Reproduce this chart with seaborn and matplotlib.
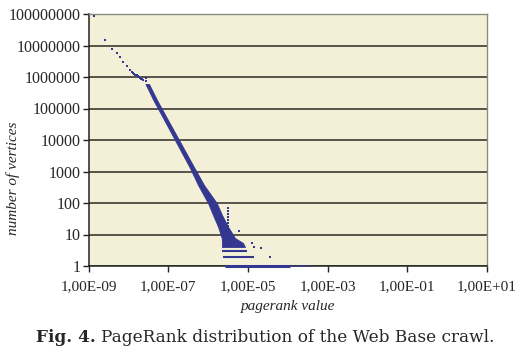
import seaborn as sns
import matplotlib.pyplot as plt
import pandas as pd
from matplotlib.ticker import FixedLocator, FixedFormatter, NullLocator

# Puntos sueltos de la cabeza (pagerank muy bajo, muchos vertices)
head_pr = [1.37e-9, 2.6e-9, 3.9e-9, 5.1e-9, 6.2e-9, 7.5e-9, 9.1e-9, 1.1e-8, 1.2e-8,
           1.33e-8, 1.4e-8, 1.47e-8, 1.55e-8, 1.65e-8, 1.75e-8, 1.85e-8, 1.95e-8,
           2.07e-8, 2.2e-8, 2.33e-8, 2.72e-8, 2.8e-8]
head_n = [8.5e7, 1.45e7, 7.9e6, 5.6e6, 4.2e6, 3.0e6, 2.2e6, 1.66e6, 1.45e6,
          1.3e6, 1.25e6, 1.2e6, 1.16e6, 1.12e6, 1.06e6, 1.0e6, 9.5e5,
          8.9e5, 8.4e5, 8.0e5, 9.1e5, 7.3e5]

# Banda densa (bordes izquierdo/derecho por nivel de conteo)
band_n = [6.0e5, 1.86e5, 2.08e4, 1290, 373, 100, 41.6, 17.7, 7.74, 5.37, 4.0]
band_lo = [2.69e-8, 4.23e-8, 1.08e-7, 3.52e-7, 5.60e-7, 9.97e-7, 1.33e-6, 1.78e-6, 2.20e-6, 2.24e-6, 2.24e-6]
band_hi = [3.30e-8, 5.24e-8, 1.36e-7, 4.57e-7, 7.90e-7, 1.65e-6, 2.24e-6, 3.17e-6, 4.74e-6, 7.53e-6, 8.45e-6]

# Filas de conteo bajo (3, 2, 1 vertices)
row_n = [3, 2, 1]
row_lo = [2.24e-6, 2.37e-6, 2.66e-6]
row_hi = [9.48e-6, 1.42e-5, 1.14e-4]

# Cola punteada de la fila 1
tail_pr = [1.36e-4, 1.71e-4, 2.03e-4, 2.41e-4, 2.87e-4, 3.61e-4]

# Columna punteada vertical
col_pr = 3.08e-6
col_n = [69, 56, 45, 36, 29, 23, 19, 15]

# Puntos aislados
stray_pr = [6.08e-6, 1.29e-5, 1.45e-5, 2.09e-5, 3.59e-5]
stray_n = [12.9, 5.3, 4.1, 3.65, 2]

xtick_vals = [1e-9, 1e-7, 1e-5, 1e-3, 1e-1, 1e1]
xtick_labels = ['1,00E-09', '1,00E-07', '1,00E-05', '1,00E-03', '1,00E-01', '1,00E+01']
ytick_vals = [1, 10, 100, 1000, 10000, 100000, 1000000, 10000000, 100000000]
ytick_labels = ['1', '10', '100', '1000', '10000', '100000', '1000000', '10000000', '100000000']

navy = '#34378f'
fondo = '#f4f0d7'

sns.set_style('ticks')
plt.rcParams['font.family'] = ['Liberation Serif', 'DejaVu Serif']

fig = plt.figure(figsize=(5.22, 3.51), dpi=100)
ax = fig.add_axes([88.5 / 522, 1 - 266 / 351, (487 - 88.5) / 522, (266 - 14) / 351])
ax.set_facecolor(fondo)
ax.set_xscale('log')
ax.set_yscale('log')
ax.set_xlim(1e-9, 1e1)
ax.set_ylim(1, 1e8)

ax.set_axisbelow(True)
ax.yaxis.grid(True, color='#2a2a22', linewidth=1.1)
ax.xaxis.grid(False)

# banda
ax.fill_betweenx(band_n, band_lo, band_hi, color=navy, linewidth=0.6, edgecolor=navy, zorder=3)
ax.hlines(row_n, row_lo, row_hi, color=navy, linewidth=[1.5, 1.5, 2.2], zorder=3, clip_on=False)

puntos = pd.DataFrame({
    'pr': head_pr + tail_pr + [col_pr] * len(col_n) + stray_pr,
    'n': head_n + [1] * len(tail_pr) + col_n + stray_n,
})
sns.scatterplot(data=puntos, x='pr', y='n', ax=ax, color=navy, marker='s', s=4,
                linewidth=0, zorder=4, clip_on=False)

ax.xaxis.set_major_locator(FixedLocator(xtick_vals))
ax.xaxis.set_major_formatter(FixedFormatter(xtick_labels))
ax.xaxis.set_minor_locator(NullLocator())
ax.yaxis.set_major_locator(FixedLocator(ytick_vals))
ax.yaxis.set_major_formatter(FixedFormatter(ytick_labels))
ax.yaxis.set_minor_locator(NullLocator())
ax.tick_params(axis='x', direction='out', length=4, width=1, color='#222222',
               labelsize=11, pad=6)
ax.tick_params(axis='y', direction='out', length=4, width=1, color='#222222',
               labelsize=11.5, pad=2)

for lado in ['left', 'bottom']:
    ax.spines[lado].set_color('#222222')
    ax.spines[lado].set_linewidth(1.1)
for lado in ['right', 'top']:
    ax.spines[lado].set_visible(True)
    ax.spines[lado].set_color('#8a8a80')
    ax.spines[lado].set_linewidth(1.0)

ax.set_xlabel('pagerank value', fontstyle='italic', fontsize=11, labelpad=5)
ax.set_ylabel('')
fig.text(13 / 522, 1 - 178 / 351, 'number of vertices', fontstyle='italic', fontsize=11,
         rotation=90, ha='center', va='center')

# Pie de figura
t1 = fig.text(36 / 522, 1 - 337 / 351, 'Fig. 4.', fontweight='bold', fontsize=12.2,
              family=['DejaVu Serif'], va='center', ha='left')
fig.canvas.draw()
bb = t1.get_window_extent()
fig.text(bb.x1 / fig.bbox.width + 5 / 522, 1 - 337 / 351,
         'PageRank distribution of the Web Base crawl.', fontsize=12.2,
         family=['DejaVu Serif'], va='center', ha='left')

fig.savefig('out.png', dpi=100)
